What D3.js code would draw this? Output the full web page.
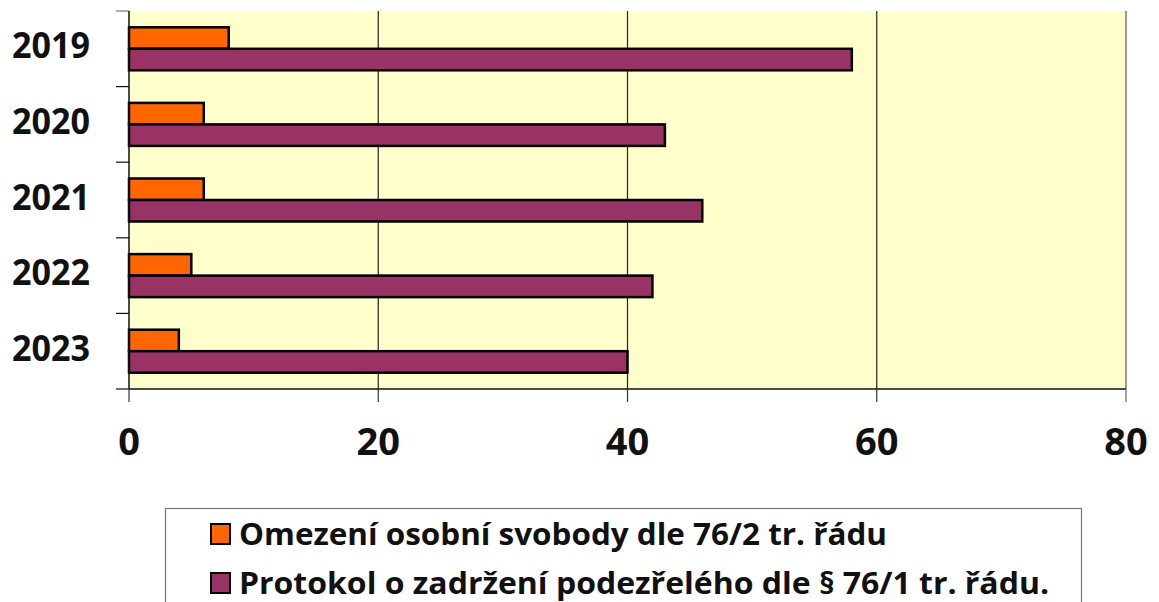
<!DOCTYPE html>
<html>
<head>
<meta charset="utf-8">
<script src="https://cdn.jsdelivr.net/npm/d3@7"></script>
<style>
  body { margin: 0; background: #fff; }
  svg { display: block; font-family: "Open Sans", Lato, sans-serif; font-weight: bold; }
</style>
</head>
<body>
<div id="chart-area"></div>
<script>
// chart data
var years = ["2019", "2020", "2021", "2022", "2023"];
var omezeni = [8, 6, 6, 5, 4];
var protokol = [58, 43, 46, 42, 40];
var xTicks = [0, 20, 40, 60, 80];
var seriesNames = [
    "Omezení osobní svobody dle 76/2 tr. řádu",
    "Protokol o zadržení podezřelého dle § 76/1 tr. řádu."
];
var seriesColors = ["#ff6600", "#993366"];

var width = 1159, height = 602;
var plotLeft = 129, plotRight = 1126, plotTop = 11, plotBottom = 389;

var svg = d3.select("#chart-area").append("svg")
    .attr("width", width)
    .attr("height", height);

var x = d3.scaleLinear().domain([0, 80]).range([plotLeft, plotRight]);
var y = d3.scaleBand().domain(years).range([plotTop, plotBottom]);

// plot background
svg.append("rect")
    .attr("x", plotLeft).attr("y", plotTop)
    .attr("width", plotRight - plotLeft).attr("height", plotBottom - plotTop)
    .attr("fill", "#ffffcc");

// vertical gridlines
svg.selectAll(".grid")
    .data(xTicks.slice(1))
    .enter().append("line")
    .attr("x1", function(d){ return x(d); })
    .attr("x2", function(d){ return x(d); })
    .attr("y1", plotTop).attr("y2", plotBottom)
    .attr("stroke", function(d){ return d == 80 ? "#555" : "#222"; })
    .attr("stroke-width", 1.2);

// bars
var barH = 21.5;
var groups = svg.selectAll(".year")
    .data(years)
    .enter().append("g");

groups.append("rect")
    .attr("x", x(0))
    .attr("y", function(d){ return y(d) + y.bandwidth() / 2 - barH; })
    .attr("width", function(d, i){ return x(omezeni[i]) - x(0); })
    .attr("height", barH)
    .attr("fill", seriesColors[0])
    .attr("stroke", "#000")
    .attr("stroke-width", 2.5);

groups.append("rect")
    .attr("x", x(0))
    .attr("y", function(d){ return y(d) + y.bandwidth() / 2; })
    .attr("width", function(d, i){ return x(protokol[i]) - x(0); })
    .attr("height", barH)
    .attr("fill", seriesColors[1])
    .attr("stroke", "#000")
    .attr("stroke-width", 2.5);

// left axis
var yEdges = years.map(function(d){ return y(d); }).concat([plotBottom]);
svg.selectAll(".ytick")
    .data(yEdges)
    .enter().append("line")
    .attr("x1", plotLeft - 13).attr("x2", plotLeft)
    .attr("y1", function(d){ return d; })
    .attr("y2", function(d){ return d; })
    .attr("stroke", function(d, i){ return i == 0 ? "#777" : "#111"; })
    .attr("stroke-width", 1.2);
svg.append("line")
    .attr("x1", plotLeft).attr("x2", plotLeft)
    .attr("y1", plotTop).attr("y2", plotBottom)
    .attr("stroke", "#111").attr("stroke-width", 1.5);

svg.selectAll(".ylabel")
    .data(years)
    .enter().append("text")
    .attr("x", 90)
    .attr("y", function(d){ return y(d) + y.bandwidth() / 2 + 9.5; })
    .attr("text-anchor", "end")
    .attr("font-size", "35px")
    .attr("textLength", 78)
    .attr("lengthAdjust", "spacingAndGlyphs")
    .attr("fill", "#111")
    .text(function(d){ return d; });

// bottom axis
svg.append("line")
    .attr("x1", plotLeft).attr("x2", plotRight)
    .attr("y1", plotBottom).attr("y2", plotBottom)
    .attr("stroke", "#111").attr("stroke-width", 1.5);
svg.selectAll(".xtick")
    .data(xTicks)
    .enter().append("line")
    .attr("x1", function(d){ return x(d); })
    .attr("x2", function(d){ return x(d); })
    .attr("y1", plotBottom).attr("y2", plotBottom + 13)
    .attr("stroke", function(d){ return d == 80 ? "#666" : "#333"; })
    .attr("stroke-width", 1.2);
svg.selectAll(".xlabel")
    .data(xTicks)
    .enter().append("text")
    .attr("x", function(d){ return x(d); })
    .attr("y", 455)
    .attr("text-anchor", "middle")
    .attr("font-size", "38px")
    .attr("fill", "#111")
    .text(function(d){ return d; });

// legend
svg.append("rect")
    .attr("x", 165.5).attr("y", 508.5)
    .attr("width", 916).attr("height", 110)
    .attr("fill", "#fff")
    .attr("stroke", "#777").attr("stroke-width", 1.2);

var legendLengths = [648, 810];
var leg = svg.selectAll(".legend")
    .data(seriesNames)
    .enter().append("g")
    .attr("transform", function(d, i){ return "translate(211," + (524 + i * 49) + ")"; });
leg.append("rect")
    .attr("width", 19).attr("height", 20)
    .attr("fill", function(d, i){ return seriesColors[i]; })
    .attr("stroke", "#000").attr("stroke-width", 2);
leg.append("text")
    .attr("x", 28)
    .attr("y", 21)
    .attr("font-size", "31px")
    .attr("textLength", function(d, i){ return legendLengths[i]; })
    .attr("lengthAdjust", "spacingAndGlyphs")
    .attr("fill", "#111")
    .text(function(d){ return d; });
</script>
</body>
</html>
